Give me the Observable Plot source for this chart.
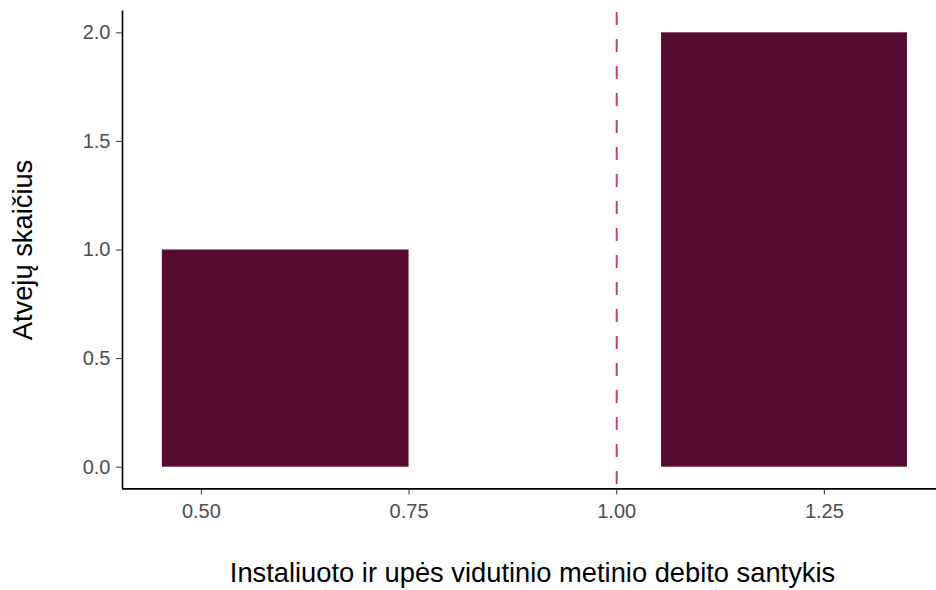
<!DOCTYPE html>
<html>
<head>
<meta charset="utf-8">
<script src="https://cdn.jsdelivr.net/npm/d3@7"></script>
<script src="https://cdn.jsdelivr.net/npm/@observablehq/plot@0.6"></script>
<style>
  html, body { margin: 0; padding: 0; background: #fff; }
  svg { font-family: "Liberation Sans", Arial, sans-serif; }
  g[aria-label="x-axis tick label"] text, g[aria-label="y-axis tick label"] text { fill: #4D4D4D; font-size: 20px; }
  g[aria-label="text"] text { font-size: 27.3px; }
</style>
</head>
<body>
<div id="chart"></div>
<script>
const binStart = [0.453, 1.054];
const binEnd = [0.750, 1.350];
const counts = [1, 2];
const refLine = [1.0];
const xTicks = [0.5, 0.75, 1.0, 1.25];
const yTicks = [0, 0.5, 1.0, 1.5, 2.0];
const xTitle = "Instaliuoto ir upės vidutinio metinio debito santykis";
const yTitle = "Atvejų skaičius";

const bins = binStart.map((s, i) => ({x1: s, x2: binEnd[i], y: counts[i]}));

const chart = Plot.plot({
  width: 936,
  height: 590,
  marginLeft: 122,
  marginRight: 0,
  marginTop: 10.6,
  marginBottom: 101.6,
  x: {domain: [0.405, 1.385]},
  y: {domain: [-0.1, 2.1]},
  marks: [
    Plot.rectY(bins, {x1: "x1", x2: "x2", y1: 0, y2: "y", fill: "#560D31", inset: 0}),
    Plot.ruleX(refLine, {stroke: "#BE4570", strokeWidth: 2, strokeDasharray: "13,14", dy: 1.5}),
    Plot.ruleX([0.405], {stroke: "#000", strokeWidth: 1.6}),
    Plot.ruleY([-0.1], {stroke: "#000", strokeWidth: 1.6}),
    Plot.axisX(xTicks, {tickFormat: d3.format(".2f"), tickSize: 6, tickPadding: 9, stroke: "#333", label: null}),
    Plot.axisY(yTicks, {tickFormat: d3.format(".1f"), tickSize: 6, tickPadding: 6, stroke: "#333", label: null}),
    Plot.text([xTitle], {frameAnchor: "bottom", textAnchor: "middle", lineAnchor: "middle", dy: 84, dx: 3, fill: "#000"}),
    Plot.text([yTitle], {frameAnchor: "left", textAnchor: "middle", lineAnchor: "middle", dx: -99.5, rotate: -90, fill: "#000"})
  ]
});
document.getElementById("chart").appendChild(chart);
</script>
</body>
</html>
